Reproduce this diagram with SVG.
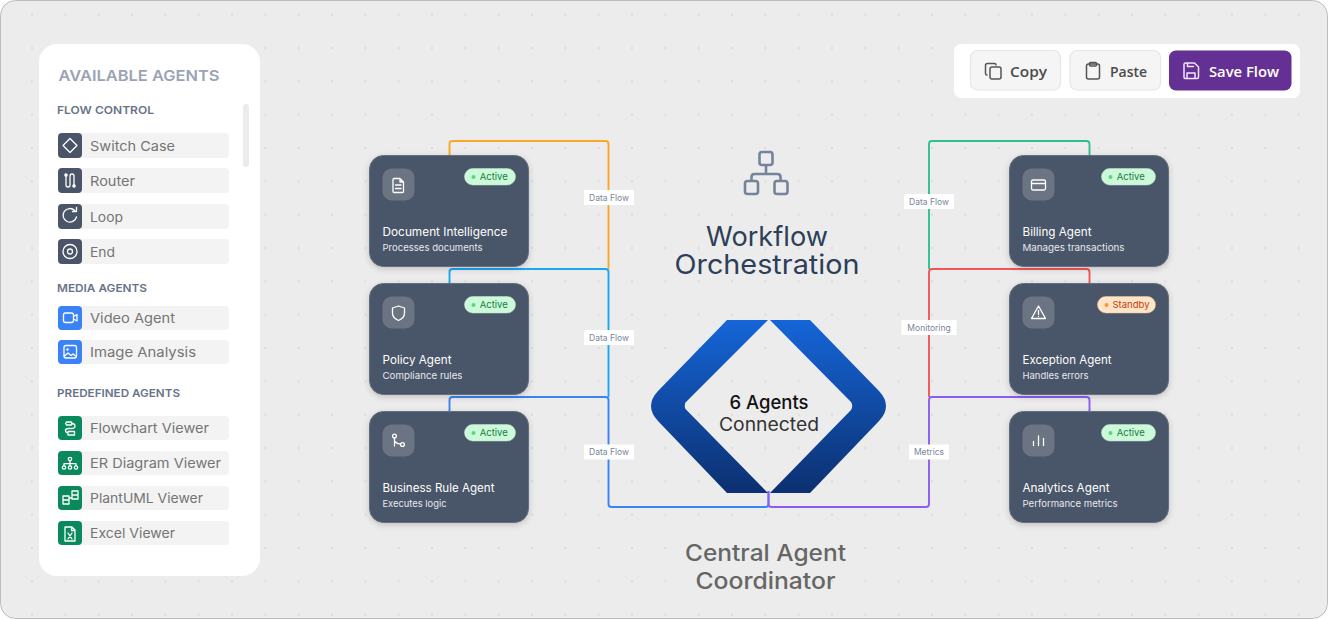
<svg xmlns="http://www.w3.org/2000/svg" width="1328" height="619" viewBox="0 0 1328 619">
<style>
text{font-family:"Inter","Noto Sans","Liberation Sans",sans-serif}
.sec{font-size:11px;font-weight:600;fill:#687389}
.itm{fill:#f3f3f3}
.lab{font-size:13.5px;fill:#757575}
.ic{fill:none;stroke:#fff;stroke-width:1.3;stroke-linecap:round;stroke-linejoin:round}
.card{fill:#4a5568;stroke:#646e80;stroke-width:1;filter:url(#sh)}
.icb{fill:#6b7482}
.t{font-size:11.5px;font-weight:400;fill:#fff}
.s{font-size:9.5px;fill:#e6e9ee}
.bg{fill:#cdf8da;stroke:#bdf0cd;stroke-width:.5}
.bt{font-size:9.5px;fill:#15803d}
.cl{font-size:8.5px;fill:#7a859b;text-anchor:middle}
.clb{fill:#fff}
.c{fill:none;stroke-width:1.9}
.btn{fill:#f5f5f5;stroke:#e6e6e6;stroke-width:1.2}
.bl{font-family:"Open Sans","Noto Sans",sans-serif;font-size:15px;font-weight:600;fill:#4b4b4b}
.bi{fill:none;stroke:#555;stroke-width:1.5;stroke-linejoin:round;stroke-linecap:round}
</style>
<defs>
<pattern id="dots" x="-1.33" y="14.67" width="33.333" height="33.333" patternUnits="userSpaceOnUse"><circle cx="33.333" cy="0" r="1" fill="#d6d6d6"/><circle cx="0" cy="0" r="1" fill="#d6d6d6"/><circle cx="0" cy="33.333" r="1" fill="#d6d6d6"/><circle cx="33.333" cy="33.333" r="1" fill="#d6d6d6"/></pattern>
<linearGradient id="dia" x1="0" y1="0" x2="0" y2="1"><stop offset="0" stop-color="#1565d8"/><stop offset="1" stop-color="#0c3070"/></linearGradient>
<filter id="sh" x="-10%" y="-10%" width="120%" height="125%"><feDropShadow dx="0" dy="2" stdDeviation="3" flood-color="#000" flood-opacity=".18"/></filter>
</defs>
<rect x="0.5" y="0.5" width="1327" height="618" rx="15" fill="#ececec" stroke="#bcbcbc"/>
<rect x="2" y="2" width="1324" height="615" rx="14" fill="url(#dots)"/>

<g id="sidebar">
<rect x="39" y="44" width="221" height="532" rx="18" fill="#fff"/>
<rect x="243" y="104" width="6" height="63" rx="3" fill="#ebebeb"/>
<text x="58.500" y="81" font-size="15" font-weight="600" fill="#9aa3b5" textLength="161" lengthAdjust="spacingAndGlyphs">AVAILABLE AGENTS</text>
<text x="57" y="114" class="sec" textLength="97" lengthAdjust="spacingAndGlyphs">FLOW CONTROL</text>
<text x="57" y="292" class="sec" textLength="90" lengthAdjust="spacingAndGlyphs">MEDIA AGENTS</text>
<text x="57" y="397" class="sec" textLength="123" lengthAdjust="spacingAndGlyphs">PREDEFINED AGENTS</text>
</g>
<g id="item-switch"><rect class="itm" x="58" y="133" width="171" height="25" rx="4"/><rect x="58" y="133" width="24" height="25" rx="4" fill="#4a5568"/><path class="ic" d="M70 138.500l7 7-7 7-7-7z"/><text class="lab" x="90" y="150.500" textLength="85" lengthAdjust="spacingAndGlyphs">Switch Case</text></g>
<g id="item-router"><rect class="itm" x="58" y="168" width="171" height="25" rx="4"/><rect x="58" y="168" width="24" height="25" rx="4" fill="#4a5568"/><path class="ic" d="M66 176v9q0 2 2 2t2-2v-9q0-2 2-2t2 2v9"/><circle cx="66" cy="175" r="1.800" fill="#fff"/><circle cx="74" cy="186" r="1.800" fill="#fff"/><text class="lab" x="90" y="185.500" textLength="45" lengthAdjust="spacingAndGlyphs">Router</text></g>
<g id="item-loop"><rect class="itm" x="58" y="204" width="171" height="25" rx="4"/><rect x="58" y="204" width="24" height="25" rx="4" fill="#4a5568"/><path class="ic" d="M76.500 217a6.800 6.800 0 1 1-1.800-6.500M76.500 207.500v4h-4"/><text class="lab" x="90" y="221.500" textLength="33" lengthAdjust="spacingAndGlyphs">Loop</text></g>
<g id="item-end"><rect class="itm" x="58" y="239" width="171" height="25" rx="4"/><rect x="58" y="239" width="24" height="25" rx="4" fill="#4a5568"/><circle class="ic" cx="70" cy="251.500" r="7"/><circle class="ic" cx="70" cy="251.500" r="2.500"/><text class="lab" x="90" y="256.500" textLength="25" lengthAdjust="spacingAndGlyphs">End</text></g>
<g id="item-video"><rect class="itm" x="58" y="306" width="171" height="24" rx="4"/><rect x="58" y="306" width="24" height="24" rx="4" fill="#3b82f6"/><rect class="ic" x="63.500" y="313" width="10" height="9.500" rx="2"/><path class="ic" d="M73.500 316.500l3.500-2v6.500l-3.500-2"/><text class="lab" x="90" y="323" textLength="85" lengthAdjust="spacingAndGlyphs">Video Agent</text></g>
<g id="item-image"><rect class="itm" x="58" y="340" width="171" height="24" rx="4"/><rect x="58" y="340" width="24" height="24" rx="4" fill="#3b82f6"/><rect class="ic" x="64" y="345.500" width="12.500" height="12.500" rx="2"/><circle cx="67.500" cy="349.500" r="1.200" fill="#fff"/><path class="ic" d="M64.500 356l3.500-3 3 2.500 2-1.500 2.500 2"/><text class="lab" x="90" y="357" textLength="106" lengthAdjust="spacingAndGlyphs">Image Analysis</text></g>
<g id="item-flowchart"><rect class="itm" x="58" y="416" width="171" height="24" rx="4"/><rect x="58" y="416" width="24" height="24" rx="4" fill="#0a8a5c"/><path class="ic" stroke-width="1" d="M66.500 422h5l1 1.500-1 1.500h-5l-1-1.500zM68 431.500h6.500v3.500h-6.500zM71.500 423.500q3.500 0 3.500 2.500t-3.500 2.500h-3q-3 0-3 2t2.500 2.500"/><text class="lab" x="90" y="433" textLength="119" lengthAdjust="spacingAndGlyphs">Flowchart Viewer</text></g>
<g id="item-er"><rect class="itm" x="58" y="451" width="171" height="24" rx="4"/><rect x="58" y="451" width="24" height="24" rx="4" fill="#0a8a5c"/><g class="ic" stroke-width="1"><circle cx="70" cy="459" r="1.700"/><circle cx="64" cy="467.500" r="1.700"/><circle cx="70" cy="467.500" r="1.700"/><circle cx="76" cy="467.500" r="1.700"/><path d="M70 460.700v3M64 465.800v-2.100h12v2.100M70 463.700v2.100"/></g><text class="lab" x="90" y="468" textLength="131" lengthAdjust="spacingAndGlyphs">ER Diagram Viewer</text></g>
<g id="item-plantuml"><rect class="itm" x="58" y="486" width="171" height="24" rx="4"/><rect x="58" y="486" width="24" height="24" rx="4" fill="#0a8a5c"/><path class="ic" stroke-width="1" d="M63 496h6v8h-6zM63 500h6M72 491h6v8h-6zM72 495h6M69 498h3"/><text class="lab" x="90" y="503" textLength="113" lengthAdjust="spacingAndGlyphs">PlantUML Viewer</text></g>
<g id="item-excel"><rect class="itm" x="58" y="521" width="171" height="24" rx="4"/><rect x="58" y="521" width="24" height="24" rx="4" fill="#0a8a5c"/><path class="ic" stroke-width="1" d="M65 527h7l3 3v11h-10zM71.500 527v3.500h3.500M68 533l4 6M72 533l-4 6"/><text class="lab" x="90" y="538" textLength="85" lengthAdjust="spacingAndGlyphs">Excel Viewer</text></g>

<g id="connectors">
<path class="c" stroke="#f9a826" d="M449.500 156v-12q0-3 3-3h153q3 0 3 3v125"/>
<path class="c" stroke="#1aa7f5" d="M449.500 284v-12q0-3 3-3h153q3 0 3 3v125"/>
<path class="c" stroke="#3b82f6" d="M449.500 412v-12q0-3 3-3h153q3 0 3 3v104q0 3 3 3h154q3 0 3-3v-13"/>
<path class="c" stroke="#2cc28f" d="M1089.500 156v-12q0-3-3-3h-154.500q-3 0-3 3v125"/>
<path class="c" stroke="#f25555" d="M1089.500 284v-12q0-3-3-3h-154.500q-3 0-3 3v125"/>
<path class="c" stroke="#8b5cf6" d="M1089.500 412v-12q0-3-3-3h-154.500q-3 0-3 3v104q0 3-3 3h-154.500q-3 0-3-3v-13"/>
<rect class="clb" x="584" y="190" width="50" height="15"/><text class="cl" x="609" y="200.500">Data Flow</text>
<rect class="clb" x="584" y="330" width="50" height="15"/><text class="cl" x="609" y="340.500">Data Flow</text>
<rect class="clb" x="584" y="444.500" width="50" height="15"/><text class="cl" x="609" y="455">Data Flow</text>
<rect class="clb" x="904" y="194" width="50" height="15"/><text class="cl" x="929" y="204.500">Data Flow</text>
<rect class="clb" x="901.500" y="320" width="55" height="15"/><text class="cl" x="929" y="330.500">Monitoring</text>
<rect class="clb" x="909" y="444.500" width="40" height="15"/><text class="cl" x="929" y="455">Metrics</text>
</g>

<g id="doc"><rect class="card" x="369.500" y="155.500" width="159" height="111" rx="14"/><rect class="icb" x="382.500" y="168.500" width="32" height="32" rx="9"/><path class="ic" d="M394 178.500h6l3.500 3.500v9.500q0 1-1 1h-8.500q-1 0-1-1v-12q0-1 1-1zM400 178.500v3.500h3.500M395.500 185h5.500M395.500 188.500h5.500"/><rect class="bg" x="464.500" y="168.500" width="51" height="16.500" rx="8.250"/><circle cx="473.500" cy="177" r="2" fill="#4ade80"/><text class="bt" x="479.700" y="180">Active</text><text class="t" x="382.500" y="236" textLength="125" lengthAdjust="spacingAndGlyphs">Document Intelligence</text><text class="s" x="382.500" y="251" textLength="100" lengthAdjust="spacingAndGlyphs">Processes documents</text></g>
<g id="policy"><rect class="card" x="369.500" y="283.500" width="159" height="111" rx="14"/><rect class="icb" x="382.500" y="296.500" width="32" height="32" rx="9"/><path class="ic" d="M398.500 306l6 2v5q0 5-6 7.500q-6-2.500-6-7.500v-5z"/><rect class="bg" x="464.500" y="296.500" width="51" height="16.500" rx="8.250"/><circle cx="473.500" cy="305" r="2" fill="#4ade80"/><text class="bt" x="479.700" y="308">Active</text><text class="t" x="382.500" y="364" textLength="69" lengthAdjust="spacingAndGlyphs">Policy Agent</text><text class="s" x="382.500" y="379" textLength="80" lengthAdjust="spacingAndGlyphs">Compliance rules</text></g>
<g id="rule"><rect class="card" x="369.500" y="411.500" width="159" height="111" rx="14"/><rect class="icb" x="382.500" y="424.500" width="32" height="32" rx="9"/><circle class="ic" cx="394.500" cy="436" r="1.900"/><circle class="ic" cx="402.500" cy="444.500" r="1.900"/><path class="ic" d="M394.500 438v8M394.500 440.500q1 3 6 3.500"/><rect class="bg" x="464.500" y="424.500" width="51" height="16.500" rx="8.250"/><circle cx="473.500" cy="433" r="2" fill="#4ade80"/><text class="bt" x="479.700" y="436">Active</text><text class="t" x="382.500" y="492" textLength="112" lengthAdjust="spacingAndGlyphs">Business Rule Agent</text><text class="s" x="382.500" y="507" textLength="64" lengthAdjust="spacingAndGlyphs">Executes logic</text></g>
<g id="billing"><rect class="card" x="1009.500" y="155.500" width="159" height="111" rx="14"/><rect class="icb" x="1022.500" y="168.500" width="32" height="32" rx="9"/><rect class="ic" x="1031.500" y="180" width="14" height="10" rx="1.500"/><path class="ic" d="M1031.500 183.500h14"/><rect class="bg" x="1101.500" y="168.500" width="54" height="16.500" rx="8.250"/><circle cx="1110.500" cy="177" r="2" fill="#4ade80"/><text class="bt" x="1116.700" y="180">Active</text><text class="t" x="1022.500" y="236" textLength="69" lengthAdjust="spacingAndGlyphs">Billing Agent</text><text class="s" x="1022.500" y="251" textLength="102" lengthAdjust="spacingAndGlyphs">Manages transactions</text></g>
<g id="exception"><rect class="card" x="1009.500" y="283.500" width="159" height="111" rx="14"/><rect class="icb" x="1022.500" y="296.500" width="32" height="32" rx="9"/><path class="ic" d="M1038.500 306l7 12.500h-14zM1038.500 310.500v4M1038.500 316.500v.1"/><rect x="1097.500" y="296.500" width="58" height="16.500" rx="8.250" fill="#ffe4c7" stroke="#f6c796" stroke-width=".5"/><circle cx="1106.500" cy="305" r="2" fill="#fb923c"/><text x="1112.500" y="308" font-size="9.500" fill="#c2410c">Standby</text><text class="t" x="1022.500" y="364" textLength="89" lengthAdjust="spacingAndGlyphs">Exception Agent</text><text class="s" x="1022.500" y="379" textLength="66" lengthAdjust="spacingAndGlyphs">Handles errors</text></g>
<g id="analytics"><rect class="card" x="1009.500" y="411.500" width="159" height="111" rx="14"/><rect class="icb" x="1022.500" y="424.500" width="32" height="32" rx="9"/><path class="ic" d="M1033.500 445.500v-4M1038.500 445.500v-9.500M1043.500 445.500v-7"/><rect class="bg" x="1101.500" y="424.500" width="54" height="16.500" rx="8.250"/><circle cx="1110.500" cy="433" r="2" fill="#4ade80"/><text class="bt" x="1116.700" y="436">Active</text><text class="t" x="1022.500" y="492" textLength="87" lengthAdjust="spacingAndGlyphs">Analytics Agent</text><text class="s" x="1022.500" y="507" textLength="95" lengthAdjust="spacingAndGlyphs">Performance metrics</text></g>

<g id="title">
<g fill="none" stroke="#75839b" stroke-width="2.600" stroke-linejoin="round"><rect x="759.500" y="152" width="13" height="13" rx="2.500"/><rect x="745" y="181" width="13" height="13" rx="2.500"/><rect x="774.500" y="181" width="13" height="13" rx="2.500"/><path d="M766 165v9M751.500 181v-4q0-3 3-3h23q3 0 3 3v4"/></g>
<text font-size="27" fill="#2d3f58" text-anchor="middle"><tspan x="767" y="246" textLength="122" lengthAdjust="spacingAndGlyphs">Workflow</tspan><tspan x="767" y="274" textLength="185" lengthAdjust="spacingAndGlyphs">Orchestration</tspan></text>
</g>
<g id="coordinator">
<path fill="url(#dia)" d="M727 320H768L685.500 402.500Q684 406 685.500 409L768 493H727L658 421Q644 406 658 391zM770 320H810L879 391Q893 406 879 421L810 493H770L851 410Q853.500 406 851 402z"/>
<text font-size="18.500" text-anchor="middle"><tspan x="769" y="409" font-weight="500" fill="#111" textLength="79" lengthAdjust="spacingAndGlyphs">6 Agents</tspan><tspan x="769" y="430.500" fill="#333" textLength="100" lengthAdjust="spacingAndGlyphs">Connected</tspan></text>
<text font-size="23" font-weight="500" fill="#666" text-anchor="middle"><tspan x="765.500" y="561" textLength="161" lengthAdjust="spacingAndGlyphs">Central Agent</tspan><tspan x="765.500" y="589" textLength="140" lengthAdjust="spacingAndGlyphs">Coordinator</tspan></text>
</g>
<g id="toolbar">
<rect x="954" y="44" width="346" height="54" rx="7" fill="#fff"/>
<rect class="btn" x="970.500" y="50.500" width="90" height="39.500" rx="7"/>
<rect class="bi" x="990" y="67" width="11" height="12" rx="2"/><path class="bi" d="M987 75q-1.500 0-1.500-1.500v-8q0-2 2-2h7q1.500 0 1.500 1.500"/>
<text class="bl" x="1010" y="77" textLength="37" lengthAdjust="spacingAndGlyphs">Copy</text>
<rect class="btn" x="1070" y="50.500" width="90.500" height="39.500" rx="7"/>
<rect class="bi" x="1086.500" y="64" width="13" height="15" rx="2"/><rect class="bi" x="1089.500" y="62.500" width="7" height="3.500" rx="1"/>
<text class="bl" x="1110" y="77" textLength="37" lengthAdjust="spacingAndGlyphs">Paste</text>
<rect x="1169" y="50.500" width="122.500" height="40" rx="7" fill="#653094"/>
<path class="bi" style="stroke:#f0e6f8" d="M1184 64.500q0-1.500 1.500-1.500h9l4 4v10q0 1.500-1.500 1.500h-12q-1 0-1-1.500zM1187 78.500v-5.500h8v5.500M1187.500 63v3.500h6"/>
<text class="bl" x="1209" y="77" style="fill:#fff" textLength="70" lengthAdjust="spacingAndGlyphs">Save Flow</text>
</g>
</svg>
